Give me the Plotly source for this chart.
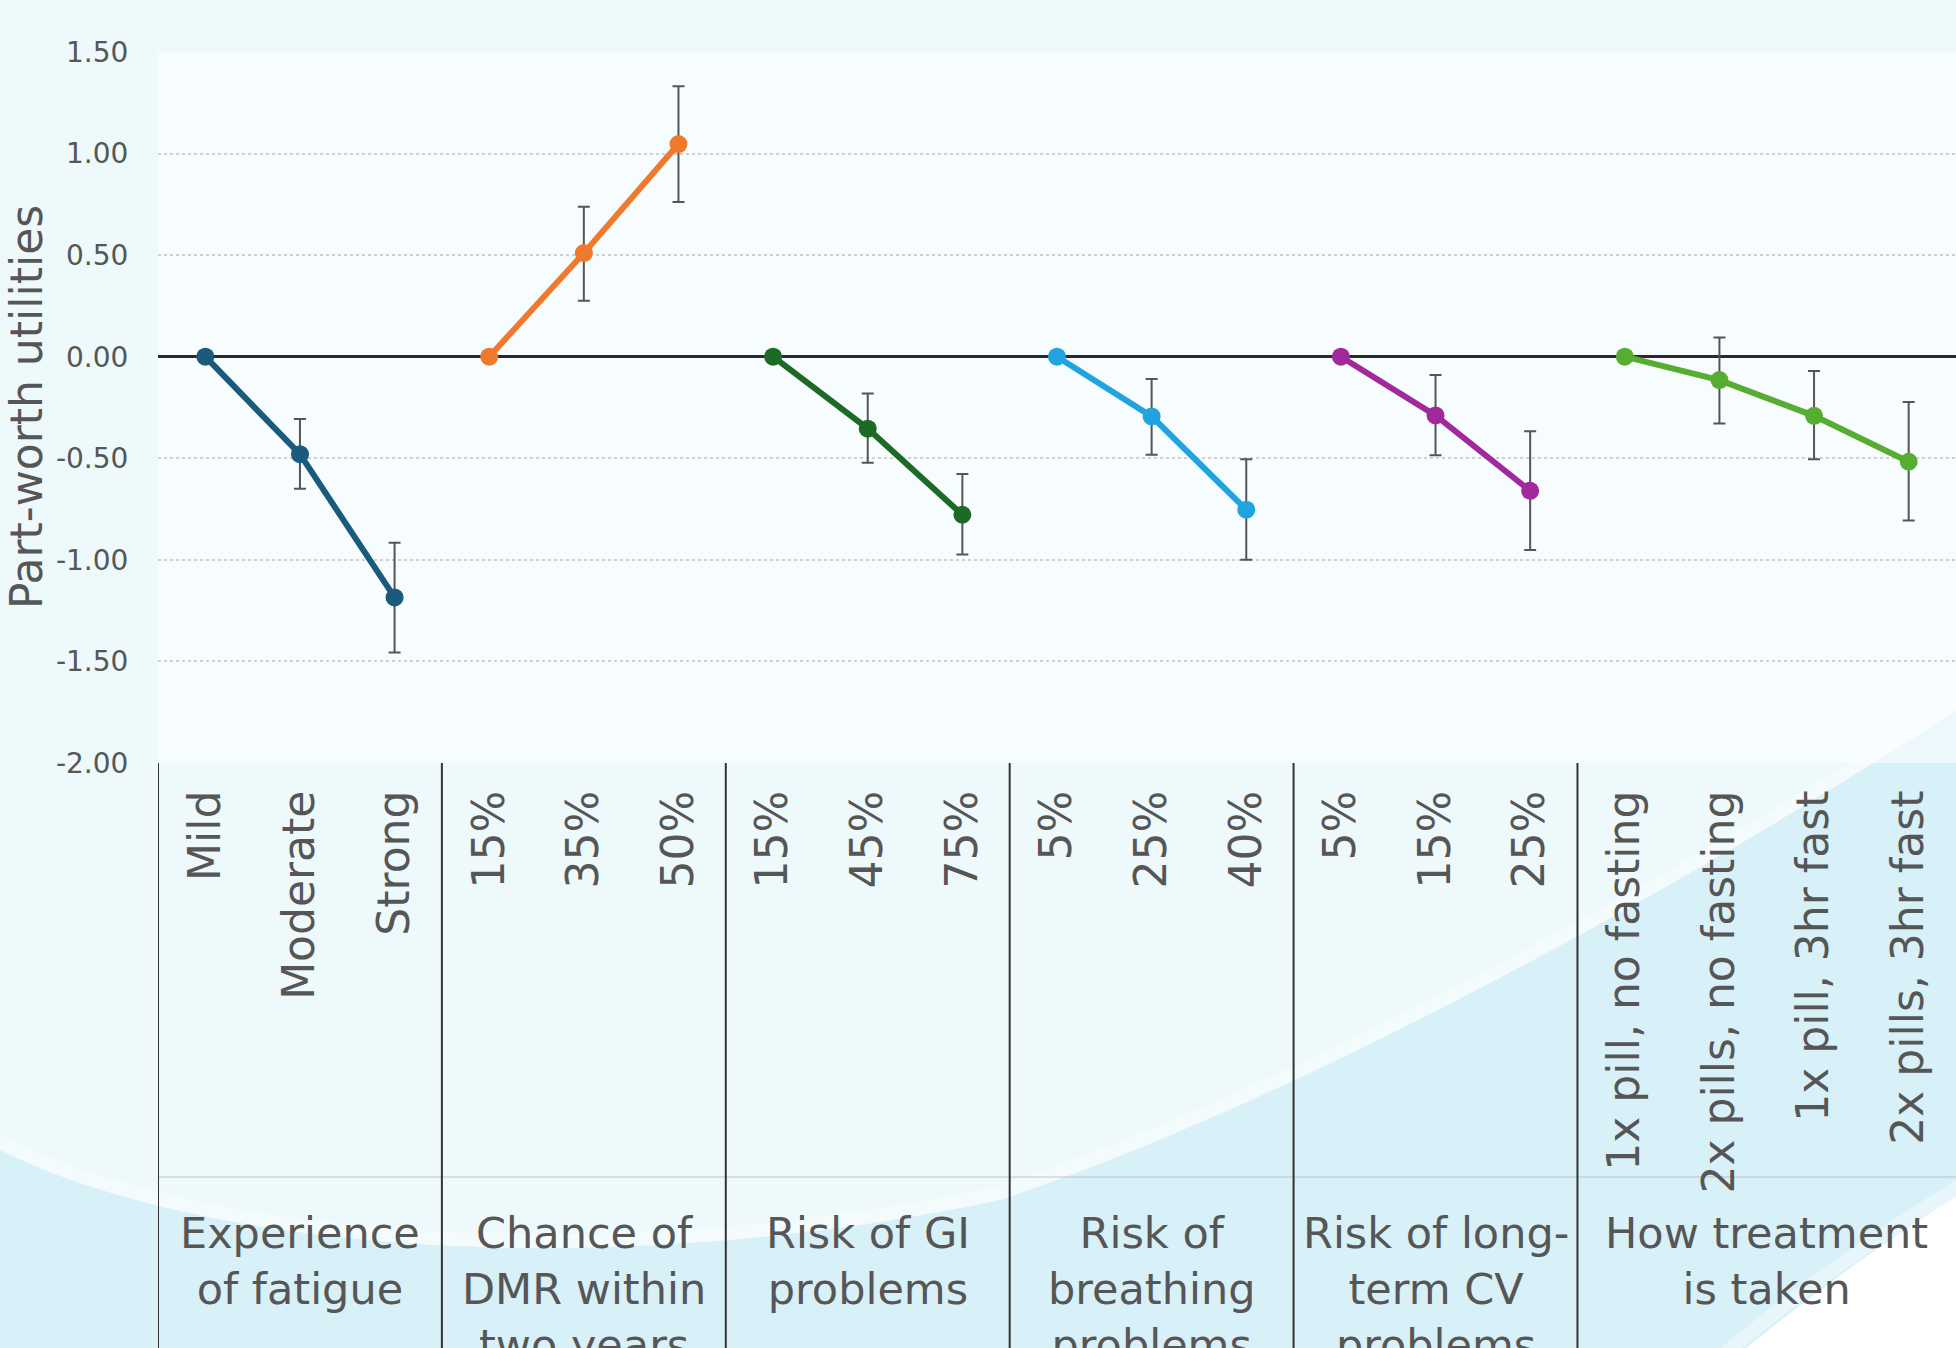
import plotly.graph_objects as go

# ---------------- data ----------------
groups = [
    "Experience<br>of fatigue",
    "Chance of<br>DMR within<br>two years",
    "Risk of GI<br>problems",
    "Risk of<br>breathing<br>problems",
    "Risk of long-<br>term CV<br>problems",
    "How treatment<br>is taken",
]
levels_fatigue = ["Mild", "Moderate", "Strong"]
levels_dmr = ["15%", "35%", "50%"]
levels_gi = ["15%", "45%", "75%"]
levels_breath = ["5%", "25%", "40%"]
levels_cv = ["5%", "15%", "25%"]
levels_treat = ["1x pill, no fasting", "2x pills, no fasting", "1x pill, 3hr fast", "2x pills, 3hr fast"]

util_fatigue = [0.00, -0.48, -1.185]
util_dmr = [0.00, 0.51, 1.047]
util_gi = [0.00, -0.354, -0.778]
util_breath = [0.00, -0.294, -0.753]
util_cv = [0.00, -0.289, -0.660]
util_treat = [0.00, -0.115, -0.291, -0.517]

upper_fatigue = [None, -0.306, -0.916]
lower_fatigue = [None, -0.650, -1.456]
upper_dmr = [None, 0.738, 1.331]
lower_dmr = [None, 0.276, 0.761]
upper_gi = [None, -0.181, -0.577]
lower_gi = [None, -0.522, -0.974]
upper_breath = [None, -0.110, -0.505]
lower_breath = [None, -0.482, -0.999]
upper_cv = [None, -0.090, -0.367]
lower_cv = [None, -0.485, -0.952]
upper_treat = [None, 0.095, -0.070, -0.223]
lower_treat = [None, -0.329, -0.505, -0.806]

colors = ["#1b5a7d", "#ef7a2e", "#1d6a27", "#21a3de", "#a2299b", "#56ad31"]

y_title = "Part-worth utilities"
y_tick_vals = [1.5, 1.0, 0.5, 0.0, -0.5, -1.0, -1.5, -2.0]
y_tick_text = ["1.50", "1.00", "0.50", "0.00", "-0.50", "-1.00", "-1.50", "-2.00"]

series = [
    (levels_fatigue, util_fatigue, upper_fatigue, lower_fatigue),
    (levels_dmr, util_dmr, upper_dmr, lower_dmr),
    (levels_gi, util_gi, upper_gi, lower_gi),
    (levels_breath, util_breath, upper_breath, lower_breath),
    (levels_cv, util_cv, upper_cv, lower_cv),
    (levels_treat, util_treat, upper_treat, lower_treat),
]

FONT = "DejaVu Sans"
TXT = "#565656"

# ---------------- layout geometry ----------------
W, H = 1956, 1348
ML, MR, MT, MB = 158, 0, 52, 585
PW, PH = W - ML - MR, H - MT - MB


def px(x):
    return (x - ML) / PW


def py(y):
    return (H - MB - y) / PH


fig = go.Figure()

tick_vals, tick_text = [], []
group_starts, group_centers = [], []
pos = 0
for g, (lv, vals, up, lo), col in zip(groups, series, colors):
    xs = list(range(pos, pos + len(lv)))
    tick_vals += xs
    tick_text += lv
    group_starts.append(pos - 0.5)
    group_centers.append((xs[0] + xs[-1]) / 2)
    pos += len(lv)
    plus = [(u - v) if u is not None else float("nan") for u, v in zip(up, vals)]
    minus = [(v - l) if l is not None else float("nan") for l, v in zip(lo, vals)]
    fig.add_trace(go.Scatter(
        x=xs, y=vals, text=lv, name=g.replace("<br>", " "),
        mode="lines+markers",
        line=dict(color=col, width=6),
        marker=dict(color=col, size=18),
        error_y=dict(type="data", symmetric=False, array=plus, arrayminus=minus,
                     color="#555555", thickness=2, width=6),
        showlegend=False,
    ))
n_levels = pos


def path(cmds, close=True):
    out = []
    for cmd, pts in cmds:
        coords = " ".join(f"{px(a):.4f},{py(b):.4f}" for a, b in pts)
        out.append(f"{cmd}{coords}")
    return " ".join(out) + (" Z" if close else "")


edge = [
    ("M", [(-200, 1100)]),
    ("L", [(0, 1150)]),
    ("C", [(200, 1250), (600, 1285), (1000, 1200)]),
    ("C", [(1300, 1100), (1700, 880), (1995, 685)]),
]
blue_blob = path(edge + [("L", [(2000, 1420)]), ("L", [(-200, 1420)])])
glow = path([("M", [(-200, 1094)]), ("L", [(0, 1144)]),
             ("C", [(200, 1244), (600, 1279), (1000, 1194)]),
             ("C", [(1300, 1094), (1700, 874), (1995, 679)])], close=False)
white_blob = path([
    ("M", [(1720, 1370)]),
    ("Q", [(1850, 1260), (1995, 1172)]),
    ("L", [(2000, 1420)]),
    ("L", [(1700, 1420)]),
])
white_glow = path([("M", [(1710, 1366)]), ("Q", [(1842, 1254), (1995, 1165)])], close=False)

shapes = [
    dict(type="path", xref="paper", yref="paper", path=glow,
         line=dict(color="rgba(255,255,255,0.35)", width=16), layer="below"),
    dict(type="path", xref="paper", yref="paper", path=blue_blob,
         fillcolor="#d8f0f8", line=dict(width=0), layer="below"),
    dict(type="path", xref="paper", yref="paper", path=white_glow,
         line=dict(color="rgba(255,255,255,0.4)", width=14), layer="below"),
    dict(type="path", xref="paper", yref="paper", path=white_blob,
         fillcolor="#ffffff", line=dict(width=0), layer="below"),
    dict(type="rect", xref="paper", yref="paper", x0=0, x1=1, y0=0, y1=1,
         fillcolor="rgba(255,255,255,0.5)", line=dict(width=0), layer="below"),
    dict(type="line", xref="paper", yref="paper", x0=0, x1=1, y0=py(1177), y1=py(1177),
         line=dict(color="rgba(185,185,185,0.55)", width=1.5), layer="below"),
]
# group dividers below the axis
for xs in group_starts:
    shapes.append(dict(type="line", xref="x", yref="paper", x0=xs, x1=xs,
                       y0=0, y1=py(1370), line=dict(color="#333333", width=2)))

annotations = [
    dict(x=c, y=py(1206), xref="x", yref="paper", text=g, showarrow=False,
         xanchor="center", yanchor="top", align="center",
         font=dict(family=FONT, size=43, color=TXT))
    for g, c in zip(groups, group_centers)
]
# y-axis title
annotations.append(dict(x=px(0), y=0.5, xref="paper", yref="paper", text=y_title,
                        textangle=-90, showarrow=False, xanchor="left", yanchor="middle",
                        borderpad=0, font=dict(family=FONT, size=44, color=TXT)))

fig.update_layout(
    width=W, height=H,
    margin=dict(l=ML, r=MR, t=MT, b=MB, pad=0, autoexpand=False),
    paper_bgcolor="#eef9fc",
    plot_bgcolor="rgba(0,0,0,0)",
    font=dict(family=FONT, color=TXT),
    showlegend=False,
    shapes=shapes,
    annotations=annotations,
    xaxis=dict(
        range=[-0.5, n_levels - 0.5],
        tickmode="array", tickvals=tick_vals, ticktext=tick_text,
        tickangle=-90,
        tickfont=dict(family=FONT, size=44, color=TXT),
        ticks="outside", ticklen=9, tickcolor="rgba(0,0,0,0)",
        showgrid=False, showline=False, zeroline=False, automargin=False,
    ),
    yaxis=dict(
        range=[-2.0, 1.5],
        tickmode="array", tickvals=y_tick_vals, ticktext=y_tick_text,
        tickfont=dict(family=FONT, size=28, color=TXT),
        ticks="outside", ticklen=23, tickcolor="rgba(0,0,0,0)",
        showgrid=True, gridcolor="#cfcfcf", griddash="dot", gridwidth=1.5,
        zeroline=True, zerolinecolor="#2a2a2a", zerolinewidth=2.5,
        showline=False, automargin=False,
    ),
)

fig.write_html("out.html", config={"displayModeBar": False},
               post_script="document.body.style.margin='0';document.body.style.overflow='hidden';")
